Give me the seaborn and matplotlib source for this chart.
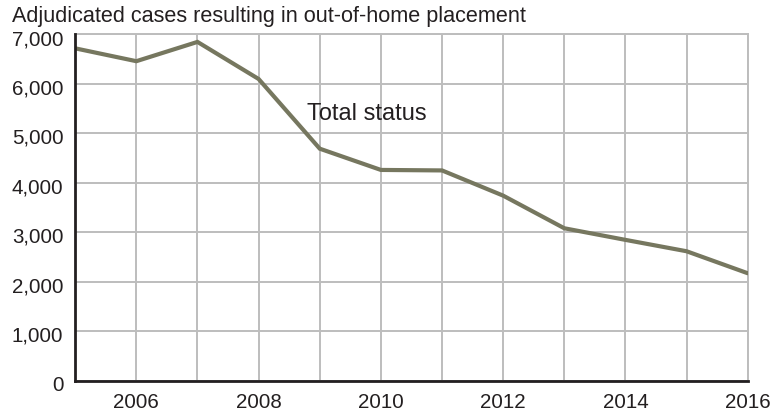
import matplotlib
matplotlib.use("Agg")
import matplotlib.pyplot as plt
import matplotlib.transforms as mtransforms
import seaborn as sns
import pandas as pd
from matplotlib.ticker import FuncFormatter, MultipleLocator

years = [2005, 2006, 2007, 2008, 2009, 2010, 2011, 2012, 2013, 2014, 2015, 2016]
cases = [6720, 6460, 6850, 6100, 4690, 4260, 4250, 3740, 3080, 2845, 2615, 2170]
x_tick_labels = [2006, 2008, 2010, 2012, 2014, 2016]
title = "Adjudicated cases resulting in out-of-home placement"
series_label = "Total status"

sns.set_style("white")
plt.rcParams["font.family"] = ["Liberation Sans", "DejaVu Sans"]

df = pd.DataFrame({"year": years, "cases": cases})

W, H = 781, 415
fig = plt.figure(figsize=(W / 100, H / 100), dpi=100)
left, right, top, bottom = 75.2, 747.7, 34.5, 380.5
ax = fig.add_axes([left / W, 1 - bottom / H, (right - left) / W, (bottom - top) / H])

line_color = "#76775f"
grid_color = "#bdbdbd"
spine_color = "#231f20"

sns.lineplot(data=df, x="year", y="cases", ax=ax, color=line_color,
             linewidth=3.0, solid_joinstyle="miter", zorder=3)

ax.set_xlim(2005, 2016)
ax.set_ylim(0, 7000)
ax.yaxis.set_major_locator(MultipleLocator(1000))
ax.set_xticks(years)
ax.set_xticklabels([str(y) if y in x_tick_labels else "" for y in years])
ax.yaxis.set_major_formatter(FuncFormatter(lambda v, p: f"{int(v):,}"))

ax.grid(True, color=grid_color, linewidth=1.4)
ax.set_axisbelow(True)

for s in ["top", "right"]:
    ax.spines[s].set_color(grid_color)
    ax.spines[s].set_linewidth(1.4)
for s in ["left", "bottom"]:
    ax.spines[s].set_color(spine_color)
    ax.spines[s].set_linewidth(2.0)
    ax.spines[s].set_zorder(4)

ax.tick_params(axis="both", which="major", direction="out", length=3, width=1.0,
               color=spine_color, labelsize=14.8, labelcolor="#231f20")
ax.tick_params(axis="y", pad=5.5)
ax.tick_params(axis="x", pad=6)
ax.set_xlabel("")
ax.set_ylabel("")

# nudge the value labels slightly below their gridlines
shift = mtransforms.ScaledTranslation(0, -3 / 100, fig.dpi_scale_trans)
for lbl in ax.get_yticklabels():
    lbl.set_transform(lbl.get_transform() + shift)

ax.text(2009.77, 5270, series_label, ha="center", va="baseline",
        fontsize=17, color="#231f20")

fig.text(12 / W, 1 - 21.7 / H, title, ha="left", va="baseline",
         fontsize=15.6, color="#231f20")

fig.savefig("out.png", dpi=100)
